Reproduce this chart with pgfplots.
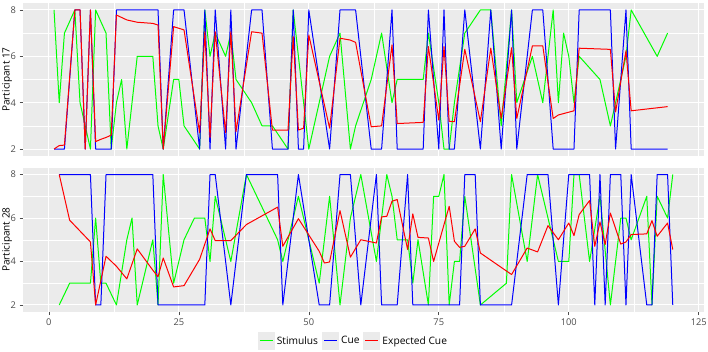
\documentclass[border=0pt]{standalone}
\usepackage{pgfplots}
\pgfplotsset{compat=1.18}
\usepackage{fontspec}
\setmainfont{Open Sans}
\definecolor{panelbg}{HTML}{EBEBEB}
\definecolor{ticklab}{HTML}{4D4D4D}
\definecolor{cgreen}{HTML}{00FF00}
\definecolor{cblue}{HTML}{0000FF}
\definecolor{cred}{HTML}{FF0000}
\pgfplotsset{
  panel/.style={
    scale only axis, width=680.6pt,
    xmin=-4.95, xmax=125.95, ymin=1.7, ymax=8.3,
    axis background/.style={fill=panelbg},
    axis line style={draw=none},
    grid=both,
    major grid style={white, line width=1.0pt},
    minor grid style={white, line width=0.5pt},
    xtick={0,25,50,75,100,125},
    minor xtick={12.5,37.5,62.5,87.5,112.5},
    ytick={2,4,6,8}, minor ytick={3,5,7},
    minor tick length=0pt,
    major tick length=3.5pt,
    tick align=outside,
    tick pos=left,
    tick style={draw=ticklab, line width=0.6pt},
    /pgf/number format/assume math mode=true,
    ticklabel style={font=\fontsize{9.3pt}{11pt}\selectfont, text=ticklab},
    every axis plot/.append style={line width=1.0pt, no marks, line join=round},
    every axis y label/.style={at={([xshift=-16pt]axis description cs:0,0.5)}, rotate=90, anchor=center, font=\fontsize{10pt}{12pt}\selectfont},
  },
  keyimg/.style={legend image code/.code={\fill[panelbg] (-1pt,-8.5pt) rectangle (15pt,8.5pt); \draw[#1,line width=1.2pt] (0.5pt,0.25pt) -- (13.5pt,0.25pt);}},
}
\begin{document}
\begin{tikzpicture}
\useasboundingbox (0,0) rectangle (708pt,351pt);
\begin{axis}[panel, at={(23.1pt,195pt)}, anchor=south west, height=153pt,
  xticklabels={}, xtick style={draw=none}, ylabel={Participant 17}]
\addplot[draw=cgreen] coordinates {(1,8)(2,4)(3,7)(5,8)(6,4)(7,3)(8,2)(9,8)(11,7)(12,2)(13,4)(14,5)(15,2)(17,6)(20,6)(21,3)(22,2)(24,5)(25,5)(26,3)(29,2)(30,8)(31,6)(32,7)(34,6)(35,7)(36,5)(39,4)(41,3)(43,3)(46,2)(47,8)(50,2)(54,6)(56,7)(58,2)(59,3)(62,5)(64,7)(66,4)(67,5)(72,5)(73,7)(75,4)(76,2)(77,2)(78,4)(80,7)(83,8)(85,8)(87,3)(89,8)(90,4)(93,6)(95,4)(97,8)(98,4)(99,7)(100,6)(101,4)(102,6)(106,5)(108,3)(109,4)(111,6)(112,8)(117,6)(119,7)};
\addplot[draw=cblue] coordinates {(1,2)(3,2)(5,8)(6,8)(7,2)(8,8)(9,2)(12,2)(13,8)(21,8)(22,2)(24,8)(26,8)(29,2)(30,8)(31,2)(32,8)(34,2)(35,8)(36,2)(39,8)(41,8)(43,2)(46,2)(47,8)(48,2)(49,2)(50,8)(54,2)(56,8)(59,8)(62,2)(64,2)(66,8)(67,2)(72,2)(73,8)(75,2)(76,8)(77,2)(78,2)(80,8)(83,2)(85,8)(87,2)(89,8)(90,2)(93,8)(95,8)(97,2)(101,2)(102,8)(108,8)(109,2)(111,8)(112,2)(119,2)};
\addplot[draw=cred] coordinates {(1,2.0)(2,2.15)(3,2.17)(5,8.0)(6,8.0)(7,2.0)(8,8.0)(9,2.32)(10,2.42)(11,2.5)(12,2.6)(13,7.78)(15,7.57)(17,7.47)(20,7.42)(21,7.35)(22,2.0)(24,7.28)(26,7.14)(29,2.7)(30,7.06)(31,2.5)(32,7.06)(34,2.7)(35,7.06)(36,2.75)(39,7.06)(41,7.0)(43,2.82)(46,2.82)(47,6.85)(48,2.82)(49,2.9)(50,6.92)(54,2.9)(56,6.78)(58,6.7)(59,6.6)(62,2.96)(64,3.0)(66,6.49)(67,3.1)(72,3.15)(73,6.42)(75,3.25)(76,6.42)(77,3.2)(78,3.18)(80,6.3)(83,3.18)(85,6.35)(87,3.32)(89,6.37)(90,3.32)(93,6.45)(95,6.45)(97,3.32)(98,3.47)(101,3.65)(102,6.35)(108,6.3)(109,3.6)(111,6.24)(112,3.65)(119,3.83)};
\end{axis}
\begin{axis}[panel, at={(23.1pt,39.5pt)}, anchor=south west, height=143.5pt,
  ylabel={Participant 28},
  legend columns=3,
  legend style={at={([xshift=-10pt,yshift=-29.5pt]axis description cs:0.5,0)}, anchor=center, draw=white, fill=white,
    font=\fontsize{10.2pt}{12pt}\selectfont, inner sep=0pt,
    /tikz/every even column/.append style={column sep=2pt}},
  ]
\addplot[draw=cgreen, forget plot] coordinates {(2,2)(4,3)(8,3)(9,6)(10,3)(11,3)(13,2)(15,5)(16,6)(17,2)(20,5)(21,2)(22,8)(24,3)(26,5)(28,6)(30,6)(31,4)(32,7)(35,4)(38,8)(44,5)(45,4)(48,7)(52,3)(54,7)(56,2)(58,6)(60,8)(63,4)(65,8)(66,7)(67,5)(69,5)(70,3)(71,5)(73,2)(74,7)(75,7)(76,8)(77,2)(78,4)(79,4)(80,7)(83,2)(88,3)(89,8)(92,4)(94,8)(98,4)(100,4)(101,8)(102,8)(104,4)(106,7)(108,2)(110,6)(111,6)(112,5)(115,7)(116,2)(117,7)(119,6)(120,8)};
\addplot[draw=cblue, forget plot] coordinates {(2,8)(8,8)(9,2)(10,2)(11,8)(20,8)(21,2)(24,2)(30,2)(31,8)(32,8)(35,2)(38,8)(44,8)(45,2)(48,8)(52,2)(54,2)(56,8)(58,8)(60,2)(63,8)(64,2)(67,2)(69,8)(70,2)(79,2)(80,8)(82,8)(83,2)(89,2)(92,8)(96,8)(98,2)(100,8)(104,8)(105,2)(106,8)(107,2)(108,8)(110,8)(111,2)(112,8)(115,2)(116,2)(117,8)(119,8)(120,2)};
\addplot[draw=cred, forget plot] coordinates {(2,8.0)(4,5.9)(8,4.9)(9,2.0)(11,4.24)(13,3.78)(15,3.2)(17,4.58)(20,3.6)(21,3.3)(22,4.16)(24,2.83)(26,2.89)(29,4.1)(31,5.5)(32,4.96)(35,4.96)(38,5.7)(44,6.5)(45,4.7)(48,5.97)(52,4.47)(53,3.93)(54,3.98)(56,6.34)(58,4.2)(60,5.0)(63,4.85)(64,6.05)(65,6.08)(66,6.77)(67,6.85)(69,4.55)(70,6.19)(71,5.11)(73,5.08)(74,4.0)(77,6.54)(78,4.93)(79,4.65)(80,4.7)(82,5.5)(83,4.39)(89,3.4)(92,4.62)(94,4.44)(96,5.65)(98,5.0)(100,5.77)(101,5.19)(102,6.16)(104,6.8)(105,4.7)(106,5.82)(107,4.78)(108,6.23)(110,4.8)(111,4.9)(112,5.24)(115,5.27)(116,5.88)(117,5.16)(119,5.77)(120,4.55)};
\addlegendimage{keyimg, draw=cgreen}
\addlegendentry{Stimulus}
\addlegendimage{keyimg, draw=cblue}
\addlegendentry{Cue}
\addlegendimage{keyimg, draw=cred}
\addlegendentry{Expected Cue}
\end{axis}
\end{tikzpicture}
\end{document}
